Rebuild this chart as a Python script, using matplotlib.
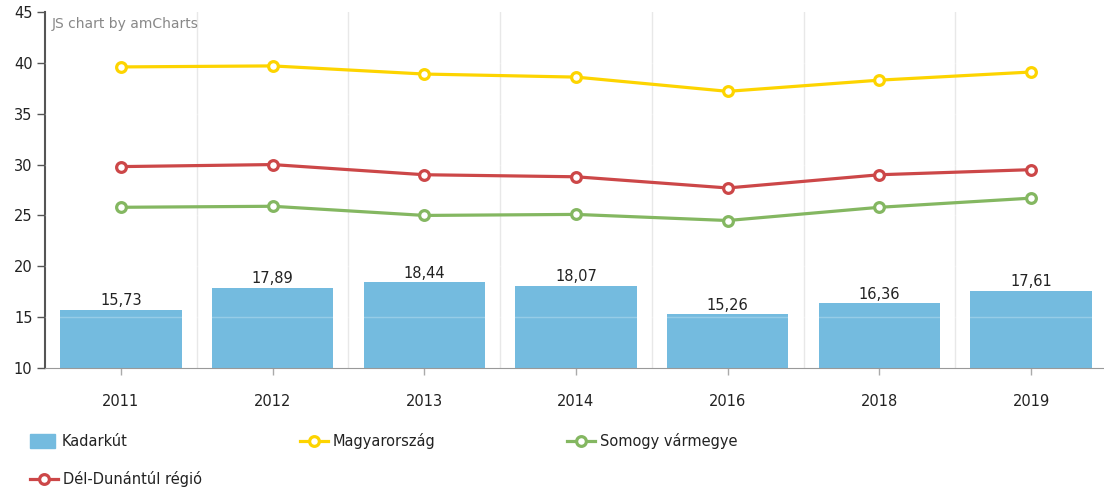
import matplotlib.pyplot as plt
from matplotlib.patches import Rectangle
from matplotlib.lines import Line2D

years = ["2011", "2012", "2013", "2014", "2016", "2018", "2019"]
kadarkut = [15.73, 17.89, 18.44, 18.07, 15.26, 16.36, 17.61]
magyarorszag = [39.6, 39.7, 38.9, 38.6, 37.2, 38.3, 39.1]
del_dunantul = [29.8, 30.0, 29.0, 28.8, 27.7, 29.0, 29.5]
somogy = [25.8, 25.9, 25.0, 25.1, 24.5, 25.8, 26.7]

bar_color = "#74bbdf"
yellow = "#fdd400"
green = "#84b761"
red = "#cc4748"

W, H = 1104, 491
fig = plt.figure(figsize=(W / 100, H / 100), dpi=100)
ax = fig.add_axes([45 / W, 1 - 368 / H, (1107 - 45) / W, (368 - 12) / H])

x = range(len(years))
ax.bar(x, [v - 10 for v in kadarkut], bottom=10, width=0.8, color=bar_color, zorder=2)
for i, v in enumerate(kadarkut):
    ax.text(i, v + 0.15, f"{v:.2f}".replace(".", ","), ha="center", va="bottom",
            fontsize=10.5, color="#222222", zorder=5)

# faint horizontal grid, only visible over bars
for gy in range(15, 45, 5):
    ax.axhline(gy, color="white", alpha=0.25, lw=1, zorder=3)
# vertical grid at category boundaries
for b in range(1, len(years)):
    ax.axvline(b - 0.5, color="#e8e8e8", lw=1, zorder=1)

for vals, col in [(magyarorszag, yellow), (del_dunantul, red), (somogy, green)]:
    ax.plot(x, vals, color=col, lw=2.3, marker="o", markersize=7,
            markerfacecolor="white", markeredgecolor=col, markeredgewidth=2.3, zorder=4)

ax.set_xlim(-0.5, len(years) - 0.5)
ax.set_ylim(10, 45)
ax.set_yticks(range(10, 50, 5))
ax.set_xticks(list(x))
ax.set_xticklabels(years)
for s in ["top", "right"]:
    ax.spines[s].set_visible(False)
ax.spines["left"].set_color("#555555")
ax.spines["left"].set_linewidth(1.5)
ax.spines["bottom"].set_color("#999999")
ax.tick_params(axis="y", length=6, width=1, color="#555555", labelsize=10.5, labelcolor="#222222", pad=3)
ax.tick_params(axis="x", length=5, width=1, color="#aaaaaa", labelsize=10.5, labelcolor="#222222", pad=14)

fig.text(52 / W, 1 - 24 / H, "JS chart by amCharts", fontsize=10, color="#888888", va="center")

# legend
def fx(px):
    return px / W

def fy(py):
    return 1 - py / H

fig.add_artist(Rectangle((fx(30), fy(448)), 25 / W, 14 / H, color=bar_color, transform=fig.transFigure))
fig.text(fx(62), fy(441), "Kadarkút", fontsize=10.5, color="#222222", va="center")
for px, py, col, name in [(300, 441, yellow, "Magyarország"),
                          (567, 441, green, "Somogy vármegye"),
                          (30, 479, red, "Dél-Dunántúl régió")]:
    fig.add_artist(Line2D([fx(px), fx(px + 28)], [fy(py), fy(py)], color=col, lw=2.3,
                          transform=fig.transFigure))
    fig.add_artist(Line2D([fx(px + 14)], [fy(py)], marker="o", markersize=7, color=col,
                          markerfacecolor="white", markeredgewidth=2.3, transform=fig.transFigure))
    fig.text(fx(px + 33), fy(py), name, fontsize=10.5, color="#222222", va="center")

fig.savefig("out.png", dpi=100)
